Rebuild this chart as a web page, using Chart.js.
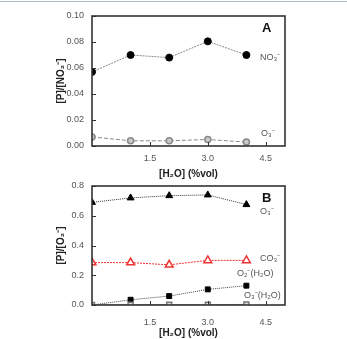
<!DOCTYPE html>
<html>
<head>
<meta charset="utf-8">
<script src="https://cdn.jsdelivr.net/npm/chart.js@4/dist/chart.umd.min.js"></script>
<style>
  body { margin: 0; background: #fff; width: 347px; height: 339px; overflow: hidden; position: relative; }
  #topline { position: absolute; left: 0; top: 1px; width: 347px; height: 1px; background: #a7bccd; }
  #boxA { position: absolute; left: 0; top: 0; }
  #boxB { position: absolute; left: 0; top: 172px; }
</style>
</head>
<body>
<div id="topline"></div>
<canvas id="boxA" width="347" height="180"></canvas>
<canvas id="boxB" width="347" height="167"></canvas>
<script>
// 가로축 [H2O] (%vol)
const h2o = [0, 1, 2, 3, 4];
const xTicks = [1.5, 3.0, 4.5];

// 패널 A : [P]/[NO2-]
const no3A = [0.057, 0.070, 0.068, 0.0805, 0.070];
const o3A = [0.007, 0.004, 0.004, 0.005, 0.003];
const yTicksA = [0, 0.02, 0.04, 0.06, 0.08, 0.10];

// 패널 B : [P]/[O2-]
const o3B = [0.69, 0.72, 0.735, 0.74, 0.675];
const co3B = [0.285, 0.285, 0.27, 0.30, 0.30];
const o2h2oB = [0.0, 0.035, 0.06, 0.105, 0.13];
const o3h2oB = [0.0, 0.002, 0.002, 0.002, 0.004];
const yTicksB = [0, 0.2, 0.4, 0.6, 0.8];

const FONT = "'Liberation Sans', Arial, sans-serif";

function pts(ys) {
    return h2o.map((x, i) => ({ x: x, y: ys[i] }));
}

// 테두리, 안쪽 눈금, 패널 글자, 시리즈 이름
function framePlugin(letter, labels) {
    return {
        id: 'frame' + letter,
        afterDraw(chart) {
            const ctx = chart.ctx;
            const a = chart.chartArea;
            const xs = chart.scales.x, ys = chart.scales.y;
            ctx.save();
            ctx.strokeStyle = '#333';
            ctx.lineWidth = 1;
            ctx.beginPath();
            chart.options.scales.x.myTicks.forEach(v => {
                const px = Math.round(xs.getPixelForValue(v)) + 0.5;
                ctx.moveTo(px, a.bottom); ctx.lineTo(px, a.bottom - 4);
            });
            chart.options.scales.y.myTicks.forEach(v => {
                const py = Math.round(ys.getPixelForValue(v)) + 0.5;
                ctx.moveTo(a.left, py); ctx.lineTo(a.left + 4, py);
            });
            ctx.stroke();
            ctx.lineWidth = 1.6;
            ctx.strokeRect(a.left, a.top, a.right - a.left, a.bottom - a.top);

            ctx.fillStyle = '#111';
            ctx.font = 'bold 13px ' + FONT;
            ctx.textBaseline = 'middle';
            ctx.fillText(letter, a.right - 23, a.top + 12);

            ctx.fillStyle = '#555';
            ctx.font = '9px ' + FONT;
            labels.forEach(l => ctx.fillText(l.text, l.x, l.y - chart.canvas.offsetTop));
            ctx.restore();
        }
    };
}

function makeChart(id, datasets, yMax, yTicks, yDigits, yTitle, padTop, xTickPad, letter, labels) {
    return new Chart(document.getElementById(id), {
        type: 'scatter',
        data: { datasets: datasets },
        options: {
            responsive: false,
            animation: false,
            layout: { padding: { left: 50, top: padTop, right: 62, bottom: 0 } },
            plugins: { legend: { display: false }, tooltip: { enabled: false } },
            scales: {
                x: {
                    type: 'linear', min: 0, max: 5,
                    myTicks: xTicks,
                    afterBuildTicks: s => { s.ticks = xTicks.map(v => ({ value: v })); },
                    afterFit: s => { s.height = 34; },
                    grid: { display: false, drawTicks: false },
                    border: { display: false },
                    ticks: { color: '#555', padding: xTickPad, font: { family: FONT, size: 9 },
                             callback: v => v.toFixed(1) },
                    title: { display: true, text: '[H₂O] (%vol)', color: '#222',
                             font: { family: FONT, size: 10, weight: 'bold' }, padding: { top: 0, bottom: 0 } }
                },
                y: {
                    min: 0, max: yMax,
                    myTicks: yTicks,
                    afterBuildTicks: s => { s.ticks = yTicks.map(v => ({ value: v })); },
                    afterFit: s => { s.width = 42; },
                    grid: { display: false, drawTicks: false },
                    border: { display: false },
                    ticks: { color: '#555', padding: 8, font: { family: FONT, size: 9 },
                             callback: v => v.toFixed(yDigits) },
                    title: { display: true, text: yTitle, color: '#222',
                             font: { family: FONT, size: 10, weight: 'bold' }, padding: { top: 5, bottom: 0 } }
                }
            }
        },
        plugins: [framePlugin(letter, labels)]
    });
}

makeChart('boxA', [
    { data: pts(no3A), showLine: true, borderColor: '#888', borderWidth: 1, borderDash: [2, 1],
      pointStyle: 'circle', pointRadius: 3.5, pointBackgroundColor: '#000', pointBorderColor: '#000' },
    { data: pts(o3A), showLine: true, borderColor: '#888', borderWidth: 1, borderDash: [4, 2],
      pointStyle: 'circle', pointRadius: 3, pointBackgroundColor: '#ccc', pointBorderColor: '#888', pointBorderWidth: 1.5 }
], 0.10, yTicksA, 2, '[P]/[NO₂⁻]', 16, 7, 'A', [
    { text: 'NO₃⁻', x: 260, y: 58 },
    { text: 'O₃⁻', x: 261, y: 134 }
]);

makeChart('boxB', [
    { data: pts(o3h2oB), showLine: true, borderColor: '#999', borderWidth: 1,
      pointStyle: 'rect', pointRadius: 3.5, pointBackgroundColor: '#ddd', pointBorderColor: '#777', pointBorderWidth: 1.5 },
    { data: pts(o2h2oB), showLine: true, borderColor: '#444', borderWidth: 1, borderDash: [1, 1],
      pointStyle: 'rect', pointRadius: 3.5, pointBackgroundColor: '#000', pointBorderColor: '#000' },
    { data: pts(co3B), showLine: true, borderColor: '#e33', borderWidth: 1, borderDash: [2, 1],
      pointStyle: 'triangle', pointRadius: 4.5, pointBackgroundColor: '#fff', pointBorderColor: '#e33', pointBorderWidth: 1.5 },
    { data: pts(o3B), showLine: true, borderColor: '#333', borderWidth: 1, borderDash: [1, 1],
      pointStyle: 'triangle', pointRadius: 4, pointBackgroundColor: '#000', pointBorderColor: '#000' }
], 0.8, yTicksB, 1, '[P]/[O₂⁻]', 14, 12, 'B', [
    { text: 'O₃⁻', x: 260, y: 212 },
    { text: 'CO₃⁻', x: 260, y: 259 },
    { text: 'O₂⁻(H₂O)', x: 237, y: 274 },
    { text: 'O₃⁻(H₂O)', x: 244, y: 296 }
]);
</script>
</body>
</html>
